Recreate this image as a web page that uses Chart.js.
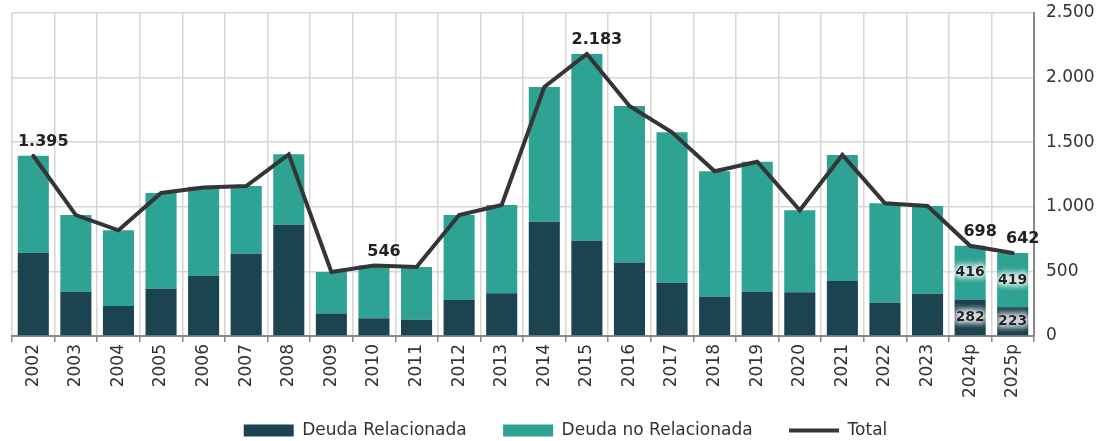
<!DOCTYPE html>
<html>
<head>
<meta charset="utf-8">
<script src="https://cdn.jsdelivr.net/npm/chart.js@4.4.1/dist/chart.umd.min.js"></script>
<style>
  html, body { margin: 0; padding: 0; background: #fff; }
  #wrap { width: 1119px; height: 441px; }
</style>
</head>
<body>
<div id="wrap"><canvas id="chart"></canvas></div>
<script>
const years = ['2002', '2003', '2004', '2005', '2006', '2007', '2008', '2009', '2010', '2011', '2012', '2013',
  '2014', '2015', '2016', '2017', '2018', '2019', '2020', '2021', '2022', '2023', '2024p', '2025p']
const relacionada = [645, 343, 232, 366, 467, 637, 862, 173, 137, 126, 279, 330,
  885, 738, 568, 413, 304, 343, 338, 426, 258, 327, 282, 223]
const noRelacionada = [750, 593, 586, 741, 689, 524, 544, 322, 409, 408, 657, 684,
  1042, 1445, 1212, 1164, 971, 1006, 635, 975, 769, 679, 416, 419]
const total = [1395, 936, 818, 1107, 1150, 1161, 1406, 495, 546, 534, 936, 1014,
  1927, 2183, 1780, 1577, 1275, 1349, 973, 1401, 1027, 1006, 698, 642]
const yTicks = [0, 500, 1000, 1500, 2000, 2500]
const totalLabelYears = ['2002', '2010', '2015', '2024p', '2025p']
const segmentLabelYears = ['2024p', '2025p']

const FONT = '"DejaVu Sans", sans-serif'
const COLOR_DARK = '#1b4450'
const COLOR_TEAL = '#2ea393'
const COLOR_LINE = '#353535'

const fmt = (v) => String(v).replace(/\B(?=(\d{3})+(?!\d))/g, '.')

const valueLabels = {
  id: 'valueLabels',
  afterDatasetsDraw(chart) {
    const ctx = chart.ctx
    ctx.save()
    ctx.textAlign = 'center'
    ctx.textBaseline = 'middle'

    // segment labels with white glow
    ctx.font = 'bold 14px ' + FONT
    segmentLabelYears.forEach((y) => {
      const i = years.indexOf(y)
      ;[0, 1].forEach((d) => {
        const bar = chart.getDatasetMeta(d).data[i]
        const cy = (bar.y + bar.base) / 2
        const txt = fmt(chart.data.datasets[d].data[i])
        ctx.shadowColor = '#fff'
        ctx.shadowBlur = 7
        ctx.fillStyle = '#fff'
        for (let k = 0; k < 4; k++) ctx.fillText(txt, bar.x, cy)
        ctx.shadowBlur = 0
        ctx.fillStyle = '#222'
        ctx.fillText(txt, bar.x, cy)
      })
    })

    // total labels
    const lineMeta = chart.getDatasetMeta(2)
    ctx.font = 'bold 16px ' + FONT
    ctx.fillStyle = '#222'
    totalLabelYears.forEach((y) => {
      const i = years.indexOf(y)
      const pt = lineMeta.data[i]
      ctx.fillText(fmt(total[i]), pt.x + 10, pt.y - 14)
    })
    ctx.restore()
  }
}

const chart = new Chart(document.getElementById('chart'), {
  plugins: [valueLabels],
  data: {
    labels: years,
    datasets: [
      {
        type: 'bar',
        label: 'Deuda Relacionada',
        data: relacionada,
        backgroundColor: COLOR_DARK,
        stack: 'deuda',
        order: 1,
        pointStyle: 'rect',
        barPercentage: 0.73,
        categoryPercentage: 1
      },
      {
        type: 'bar',
        label: 'Deuda no Relacionada',
        data: noRelacionada,
        backgroundColor: COLOR_TEAL,
        stack: 'deuda',
        order: 1,
        pointStyle: 'rect',
        barPercentage: 0.73,
        categoryPercentage: 1
      },
      {
        type: 'line',
        label: 'Total',
        data: total,
        borderColor: COLOR_LINE,
        backgroundColor: COLOR_LINE,
        borderWidth: 4,
        borderCapStyle: 'round',
        pointRadius: 0,
        pointStyle: 'line',
        tension: 0,
        stack: 'total',
        order: 0
      }
    ]
  },
  options: {
    responsive: true,
    maintainAspectRatio: false,
    animation: false,
    layout: {
      padding: { left: 12, top: 13, right: 0, bottom: 2 }
    },
    plugins: {
      tooltip: { enabled: false },
      legend: {
        position: 'bottom',
        maxHeight: 21,
        labels: {
          usePointStyle: true,
          pointStyleWidth: 50,
          boxHeight: 12,
          padding: 4,
          color: '#333',
          font: { family: FONT, size: 17 },
          sort: (a, b) => a.datasetIndex - b.datasetIndex,
          generateLabels(chart) {
            const items = Chart.defaults.plugins.legend.labels.generateLabels(chart)
            items.forEach((it) => {
              if (it.datasetIndex < 2) it.text = it.text + '      '
            })
            return items
          }
        }
      }
    },
    scales: {
      x: {
        stacked: true,
        grid: {
          offset: true,
          color: '#d6d6d6',
          lineWidth: 1.5,
          tickColor: '#888',
          tickLength: 6
        },
        border: { color: '#888', width: 2 },
        ticks: {
          color: '#333',
          font: { family: FONT, size: 17 },
          minRotation: 90,
          maxRotation: 90,
          padding: 2,
          autoSkip: false
        },
        afterFit(scale) {
          scale.height = 82
          scale.paddingTop = 0
          scale.paddingBottom = 0
        }
      },
      y: {
        position: 'right',
        stacked: true,
        min: 0,
        max: 2500,
        afterBuildTicks(scale) {
          scale.ticks = yTicks.map((v) => ({ value: v }))
        },
        grid: {
          color: '#d6d6d6',
          lineWidth: 1.5,
          drawTicks: false
        },
        border: { color: '#888', width: 2 },
        ticks: {
          color: '#333',
          padding: 12,
          font: { family: FONT, size: 17 },
          callback: (v) => fmt(v)
        },
        afterFit(scale) {
          scale.width = 85
          scale.paddingTop = 0
          scale.paddingBottom = 0
        }
      }
    }
  }
})
</script>
</body>
</html>
